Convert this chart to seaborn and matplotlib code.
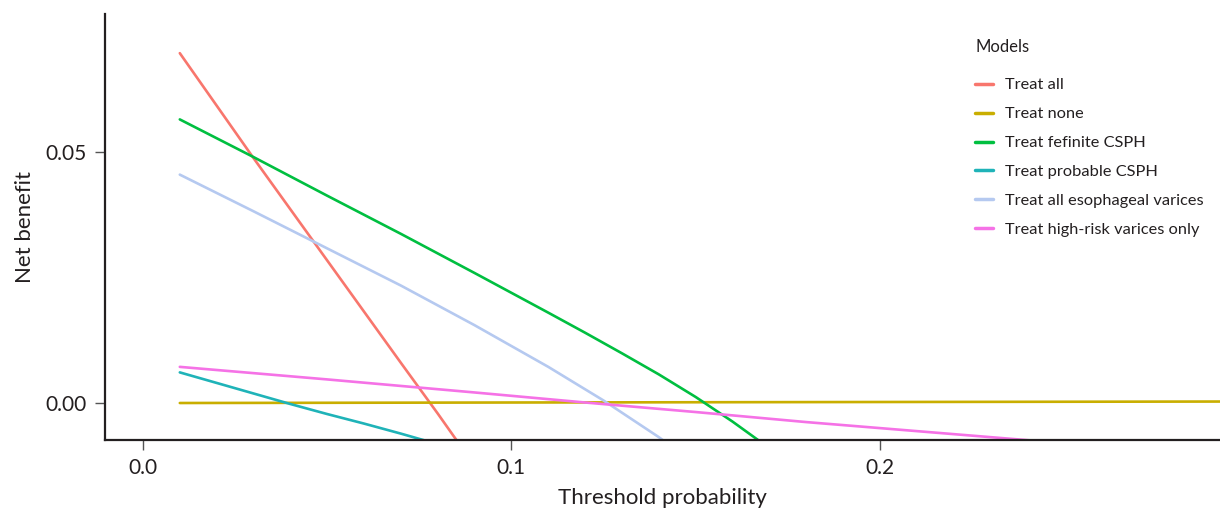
import matplotlib
matplotlib.use("Agg")
import matplotlib.pyplot as plt
import seaborn as sns
import pandas as pd

# ---- data ----
models = ["Treat all", "Treat none", "Treat fefinite CSPH", "Treat probable CSPH",
          "Treat all esophageal varices", "Treat high-risk varices only"]

treat_all_x = [0.01, 0.03, 0.05, 0.07, 0.08, 0.09]
treat_all_y = [0.0697, 0.0488, 0.0284, 0.0080, -0.0021, -0.0125]

treat_none_x = [0.01, 0.10, 0.20, 0.30]
treat_none_y = [0.0, 0.0001, 0.0002, 0.0003]

definite_x = [0.01, 0.03, 0.05, 0.07, 0.09, 0.11, 0.12, 0.13, 0.14, 0.15, 0.16, 0.17]
definite_y = [0.0565, 0.0490, 0.0413, 0.0337, 0.0259, 0.0180, 0.0140, 0.0099, 0.0057, 0.0012, -0.0037, -0.0090]

probable_x = [0.01, 0.02, 0.03, 0.04, 0.05, 0.06, 0.07, 0.08]
probable_y = [0.0061, 0.0040, 0.0019, -0.0002, -0.0022, -0.0041, -0.0061, -0.0082]

varices_x = [0.01, 0.03, 0.05, 0.07, 0.09, 0.11, 0.125, 0.14, 0.145]
varices_y = [0.0455, 0.0382, 0.0308, 0.0234, 0.0155, 0.0072, 0.0005, -0.0068, -0.0095]

highrisk_x = [0.01, 0.05, 0.09, 0.12, 0.15, 0.18, 0.21, 0.24, 0.25]
highrisk_y = [0.0072, 0.0047, 0.0021, 0.0001, -0.0018, -0.0038, -0.0056, -0.0074, -0.0080]

colors = ["#F8766D", "#C9AE00", "#00BF40", "#1FB3B8", "#B5C9F0", "#F572E6"]

series = [(treat_all_x, treat_all_y), (treat_none_x, treat_none_y),
          (definite_x, definite_y), (probable_x, probable_y),
          (varices_x, varices_y), (highrisk_x, highrisk_y)]

frames = []
for name, (xs, ys) in zip(models, series):
    frames.append(pd.DataFrame({"threshold": xs, "net_benefit": ys, "model": name}))
df = pd.concat(frames, ignore_index=True)

# ---- plot ----
sns.set_theme(style="white")
plt.rcParams["font.family"] = ["Lato", "DejaVu Sans"]

fig = plt.figure(figsize=(12.2, 5.09), dpi=100)
ax = fig.add_axes([105 / 1220, 1 - 440 / 509, 1 - 105 / 1220, (440 - 14) / 509])

sns.lineplot(data=df, x="threshold", y="net_benefit", hue="model",
             hue_order=models, palette=dict(zip(models, colors)),
             linewidth=1.9, ax=ax, sort=False, estimator=None)

ax.set_xlim(-0.0103, 0.2923)
ax.set_ylim(-0.00737, 0.0775)
ax.set_xticks([0.0, 0.1, 0.2])
ax.set_xticklabels(["0.0", "0.1", "0.2"])
ax.set_yticks([0.0, 0.05])
ax.set_yticklabels(["0.00", "0.05"])

for side in ["top", "right"]:
    ax.spines[side].set_visible(False)
for side in ["left", "bottom"]:
    ax.spines[side].set_color("#231f20")
    ax.spines[side].set_linewidth(1.6)

ax.tick_params(axis="both", which="major", direction="out", length=7, width=1,
               color="#555555", labelsize=15, labelcolor="#231f20", pad=6, bottom=True, left=True)

ax.set_xlabel("Threshold probability", fontsize=16, color="#231f20", labelpad=7)
ax.set_ylabel("Net benefit", fontsize=16, color="#231f20", labelpad=8)

handles, labels = ax.get_legend_handles_labels()
fig.text(975 / 1220, 1 - 47 / 509, "Models", fontsize=12, color="#231f20",
         ha="left", va="center")
leg = ax.legend(handles, labels, loc="upper left",
                bbox_to_anchor=(975 / 1220, 1 - 78 / 509), bbox_transform=fig.transFigure,
                frameon=False, fontsize=11.8, borderpad=0, borderaxespad=0,
                handlelength=1.1, handletextpad=0.75, labelspacing=0.88)
for line in leg.get_lines():
    line.set_linewidth(2.5)
for t in leg.get_texts():
    t.set_color("#231f20")

fig.savefig("out.png", dpi=100)
